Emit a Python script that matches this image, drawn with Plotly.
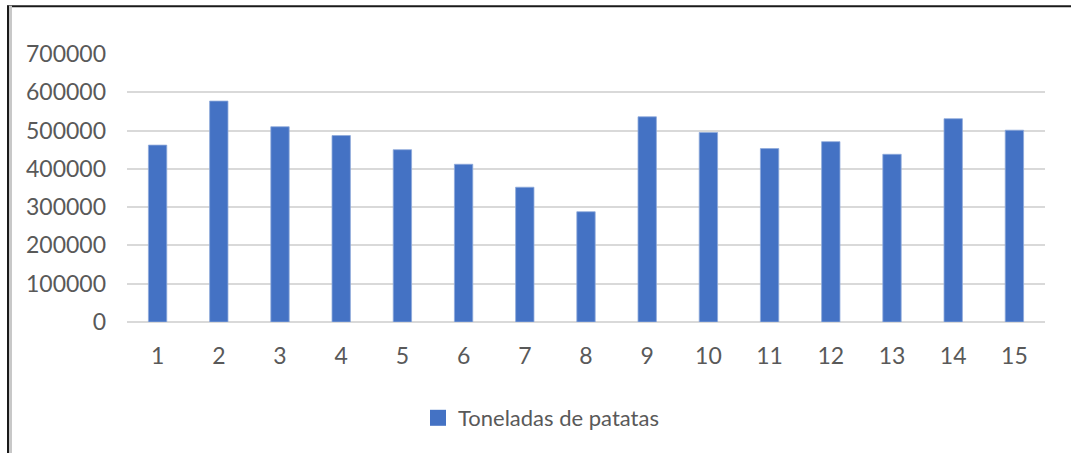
import plotly.graph_objects as go

# Annual potato output per period
periods = [str(i) for i in range(1, 16)]
toneladas = [462000, 577000, 510000, 487000, 450000, 412000, 352000, 288000,
             536000, 495000, 453000, 471000, 438000, 531000, 501000]
y_ticks = [0, 100000, 200000, 300000, 400000, 500000, 600000, 700000]
series_name = "Toneladas de patatas"

W, H = 1071, 454
L, R, T, B = 127, 1045, 53.5, 322.5
BLUE = "#4472C4"
TXT = "#595959"
FONT = "Lato"

fig = go.Figure()
fig.add_trace(go.Bar(
    x=periods, y=toneladas, name=series_name, showlegend=False,
    marker=dict(color=BLUE, line=dict(color="#8eaadb", width=0.8)),
))
# legend entry with a larger square swatch
fig.add_trace(go.Scatter(
    x=[None], y=[None], mode="markers", name=series_name,
    marker=dict(symbol="square", size=16, color=BLUE),
))


def px_x(px):
    return (px - L) / (R - L)


def px_y(py):
    return (B - py) / (B - T)


shapes = [
    # frame: top and left edges
    dict(type="line", xref="paper", yref="paper",
         x0=px_x(7), x1=px_x(1071), y0=px_y(5.5), y1=px_y(5.5),
         line=dict(color="#1a1a1a", width=2)),
    dict(type="line", xref="paper", yref="paper",
         x0=px_x(10.5), x1=px_x(10.5), y0=px_y(5), y1=px_y(454),
         line=dict(color="#c8c8c8", width=3)),
    dict(type="line", xref="paper", yref="paper",
         x0=px_x(8), x1=px_x(8), y0=px_y(5), y1=px_y(454),
         line=dict(color="#1a1a1a", width=2)),
]

fig.update_layout(
    width=W, height=H,
    margin=dict(l=L, r=W - R, t=T, b=H - B, autoexpand=False),
    paper_bgcolor="white", plot_bgcolor="white",
    bargap=0.7,
    font=dict(family=FONT, size=23, color=TXT),
    shapes=shapes,
    showlegend=True,
    legend=dict(
        orientation="h", xref="container", yref="container",
        x=418 / W, xanchor="left", y=1 - 418 / H, yanchor="middle",
        font=dict(family=FONT, size=22, color=TXT),
        bgcolor="rgba(0,0,0,0)", itemclick=False,
    ),
)
fig.update_xaxes(
    type="category", showgrid=False, showline=False, ticks="",
    ticklabelstandoff=18, tickfont=dict(family=FONT, size=23, color=TXT),
)
fig.update_yaxes(
    range=[0, 700000], tickvals=y_ticks, ticktext=[str(v) for v in y_ticks],
    showgrid=True, gridcolor="#d9d9d9", gridwidth=1.5,
    zeroline=True, zerolinecolor="#d9d9d9", zerolinewidth=1.5,
    showline=False, ticks="", ticklabelstandoff=20,
    tickfont=dict(family=FONT, size=23, color=TXT),
)

fig.write_html("out.html")
